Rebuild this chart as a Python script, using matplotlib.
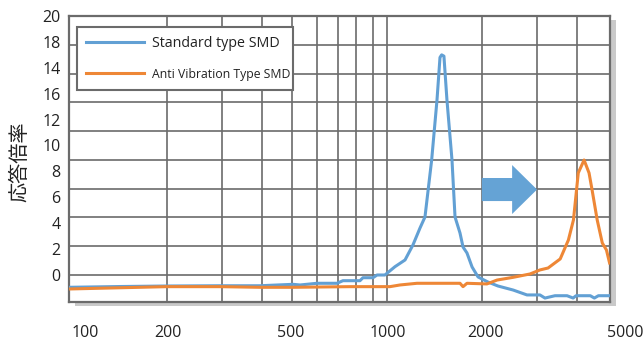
import matplotlib
matplotlib.use("Agg")
import matplotlib.pyplot as plt
from matplotlib.patches import Polygon, Rectangle
from matplotlib.transforms import blended_transform_factory

plt.rcParams['font.family'] = ['Open Sans', 'Noto Sans CJK JP', 'DejaVu Sans']

# frequency (Hz) vs response ratio
std_freq = [98, 142, 200, 295, 395, 503, 530, 600, 694, 725, 821, 839, 903, 930, 985,
            1060, 1141, 1209, 1273, 1320, 1386, 1441, 1473, 1491, 1516, 1550, 1608,
            1644, 1705, 1743, 1794, 1862, 1945, 2090, 2250, 2513, 2781, 3057, 3171,
            3412, 3727, 3895, 3981, 4416, 4549, 4686, 5100]
std_resp = [-0.95, -0.89, -0.85, -0.83, -0.83, -0.72, -0.77, -0.64, -0.64, -0.44, -0.44,
            -0.21, -0.21, 0.0, 0.0, 0.64, 1.16, 2.32, 3.63, 4.48, 8.88, 13.5, 16.8,
            17.0, 16.9, 13.5, 8.88, 4.48, 3.24, 2.16, 1.70, 0.62, -0.15, -0.54, -0.85,
            -1.16, -1.54, -1.54, -1.78, -1.60, -1.60, -1.78, -1.60, -1.60, -1.78,
            -1.60, -1.60]

anti_freq = [98, 200, 295, 395, 503, 763, 1022, 1100, 1245, 1452, 1705, 1743, 1794,
             2075, 2235, 2513, 2844, 3057, 3244, 3545, 3763, 3905, 4045, 4220, 4376,
             4475, 4645, 4821, 4969, 5084]
anti_resp = [-1.08, -0.90, -0.90, -0.95, -0.95, -0.90, -0.90, -0.77, -0.64, -0.64,
             -0.64, -0.90, -0.64, -0.69, -0.39, -0.18, 0.08, 0.39, 0.54, 1.24, 2.70,
             4.25, 7.88, 8.88, 7.88, 6.56, 4.25, 2.47, 1.93, 0.93]

series_labels = ['Standard type SMD', 'Anti Vibration Type SMD']
series_colors = ['#62a0d4', '#ee8736']

y_tick_vals = [0, 2, 4, 6, 8, 10, 12, 14, 16, 18, 20]
y_tick_labels = ['0', '2', '4', '6', '8', '10', '12', '16', '14', '18', '20']
x_tick_labels = ['100', '200', '500', '1000', '2000', '5000']
x_label_pos = [110, 202, 496, 1007, 2047, 5700]
x_grid = [200, 300, 400, 500, 600, 700, 800, 900, 1000, 2000, 3000, 4000]
y_title = '応答倍率'

frame_col = '#6b6b6b'

fig = plt.figure(figsize=(6.44, 3.40), dpi=100)
ax_rect = [69 / 644, 38 / 340, 541 / 644, 286 / 340]
ax = fig.add_axes(ax_rect)

# soft drop shadow behind the plot frame
shadow = Rectangle((ax_rect[0] + 6 / 644, ax_rect[1] - 4 / 340), ax_rect[2], ax_rect[3],
                   transform=fig.transFigure, facecolor='#c9c9c9', edgecolor='none',
                   zorder=-1)
fig.patches.append(shadow)

ax.set_xscale('log')
ax.set_xlim(98, 5100)
ax.set_ylim(-2.085, 20)

# grid: 9 equal rows up to the top, ignoring the tick label spacing
for k in range(9):
    ax.axhline(k * 20 / 9, color=frame_col, lw=1.2, zorder=1)
for xv in x_grid:
    ax.axvline(xv, color=frame_col, lw=1.2, zorder=1)

ax.plot(std_freq, std_resp, color=series_colors[0], lw=2.2, label=series_labels[0], zorder=3)
ax.plot(anti_freq, anti_resp, color=series_colors[1], lw=2.2, label=series_labels[1], zorder=3)

# block arrow between the two peaks
ax_c, body_h, head_h = 6.6, 0.89, 1.89
arrow = Polygon([(2000, ax_c - body_h), (2495, ax_c - body_h), (2495, ax_c - head_h),
                 (2993, ax_c), (2495, ax_c + head_h), (2495, ax_c + body_h),
                 (2000, ax_c + body_h)], closed=True, facecolor='#65a3d5',
                edgecolor='none', zorder=4)
ax.add_patch(arrow)

for s in ax.spines.values():
    s.set_color(frame_col)
    s.set_linewidth(1.6)

ax.set_yticks(y_tick_vals)
ax.set_yticklabels(y_tick_labels)
ax.set_xticks([])
ax.xaxis.set_minor_locator(matplotlib.ticker.NullLocator())
ax.tick_params(axis='y', length=0, pad=6, labelsize=11.5, colors='#222222')

trans = blended_transform_factory(ax.transData, ax.transAxes)
for pos, lab in zip(x_label_pos, x_tick_labels):
    ax.text(pos, -0.108, lab, transform=trans, ha='center', va='center',
            fontsize=11.5, color='#222222', clip_on=False)

fig.text(20 / 644, 1 - 162 / 340, y_title, rotation=90, ha='center', va='center',
         fontsize=14.5, color='#222222')

leg = ax.legend(loc='upper left', bbox_to_anchor=(0.0148, 0.9615, 0.399, 0.0),
                mode='expand', fontsize=10.3, handlelength=4.0, handletextpad=0.56,
                labelspacing=1.15, borderpad=0.65, fancybox=False, framealpha=1,
                edgecolor=frame_col, borderaxespad=0)
leg.get_frame().set_linewidth(1.5)
for t in leg.get_texts():
    t.set_color('#222222')
# second label is squeezed to the same width as the first in the original
leg.get_texts()[1].set_fontsize(8.8)
leg.set_zorder(5)

fig.savefig('out.png', dpi=100)
